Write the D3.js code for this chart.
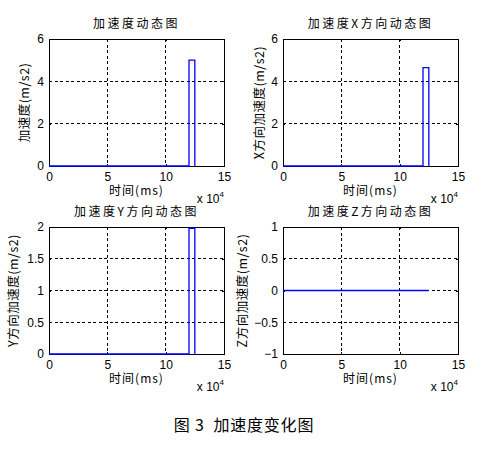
<!DOCTYPE html>
<html>
<head>
<meta charset="utf-8">
<title>加速度变化图</title>
<script src="https://cdn.jsdelivr.net/npm/d3@7"></script>
<style>
  body { margin: 0; background: #fff; }
  .axis path, .axis line { fill: none; stroke: #000; shape-rendering: crispEdges; }
  .axis text { font-family: "Liberation Sans", Arial, sans-serif; font-size: 12px; fill: #000; }
  .grid line { stroke: #000; stroke-dasharray: 3,2.5; shape-rendering: crispEdges; }
  .cjk { font-family: "Noto Sans CJK SC", sans-serif; font-size: 12px; fill: #000; }
</style>
</head>
<body>
<script>
// 数据
var times = [0, 120000, 120000, 125000, 125000];
var accTotal = [0, 0, 5, 5, 0];
var accX = [0, 0, 4.65, 4.65, 0];
var accY = [0, 0, 1.98, 1.98, 0];
var accZ = [0, 0, 0, 0, 0];

var xTicks = [0, 50000, 100000, 150000];
var yTicksTotal = [0, 2, 4, 6];
var yTicksX = [0, 2, 4, 6];
var yTicksY = [0, 0.5, 1, 1.5, 2];
var yTicksZ = [-1, -0.5, 0, 0.5, 1];

var titles = ["加速度动态图", "加速度X方向动态图", "加速度Y方向动态图", "加速度Z方向动态图"];
var yLabels = ["加速度(m/s2)", "X方向加速度(m/s2)", "Y方向加速度(m/s2)", "Z方向加速度(m/s2)"];
var xLabel = "时间(ms)";
var caption = "图 3  加速度变化图";

var w = 494, h = 452;
var svg = d3.select("body").append("svg").attr("width", w).attr("height", h);

// 每个子图的位置
var panels = [
  { left: 49, top: 39, values: accTotal, ticks: yTicksTotal, domain: [0, 6], ylabDx: 24 },
  { left: 283, top: 39, values: accX, ticks: yTicksX, domain: [0, 6], ylabDx: 23 },
  { left: 49, top: 227, values: accY, ticks: yTicksY, domain: [0, 2], ylabDx: 35 },
  { left: 283, top: 227, values: accZ, ticks: yTicksZ, domain: [-1, 1], ylabDx: 40 }
];
var pw = 175, ph = 127;

panels.forEach(function(p, i) {
  var g = svg.append("g").attr("transform", "translate(" + p.left + "," + p.top + ")");
  var x = d3.scaleLinear().domain([0, 150000]).range([0, pw]);
  var y = d3.scaleLinear().domain(p.domain).range([ph, 0]);

  // 网格
  var grid = g.append("g").attr("class", "grid");
  grid.selectAll(".gx").data(xTicks.slice(1, -1)).enter().append("line")
    .attr("x1", function(d) { return x(d); }).attr("x2", function(d) { return x(d); })
    .attr("y1", 0).attr("y2", ph);
  grid.selectAll(".gy").data(p.ticks.slice(1, -1)).enter().append("line")
    .attr("y1", function(d) { return y(d); }).attr("y2", function(d) { return y(d); })
    .attr("x1", 0).attr("x2", pw);

  // 坐标轴
  g.append("g").attr("class", "axis").attr("transform", "translate(0," + ph + ")")
    .call(d3.axisBottom(x).tickValues(xTicks).tickSize(-2).tickPadding(6)
      .tickFormat(function(d) { return d / 10000; }));
  g.append("g").attr("class", "axis")
    .call(d3.axisLeft(y).tickValues(p.ticks).tickSize(-2).tickPadding(5).tickFormat(d3.format("")));
  g.append("g").attr("class", "axis")
    .call(d3.axisTop(x).tickValues(xTicks).tickSize(-2).tickFormat(""));
  g.append("g").attr("class", "axis").attr("transform", "translate(" + pw + ",0)")
    .call(d3.axisRight(y).tickValues(p.ticks).tickSize(-2).tickFormat(""));

  // 曲线
  var line = d3.line()
    .x(function(d, j) { return x(times[j]); })
    .y(function(d) { return y(d); });
  g.append("path").datum(p.values)
    .attr("d", line)
    .attr("fill", "none")
    .attr("stroke", "#0000ff")
    .attr("stroke-width", 1.3);

  // 标题和标签
  g.append("text").attr("class", "cjk")
    .attr("x", pw / 2).attr("y", -11)
    .attr("text-anchor", "middle")
    .style("letter-spacing", "2.5px")
    .text(titles[i]);
  g.append("text").attr("class", "cjk")
    .attr("x", pw / 2).attr("y", ph + 29)
    .attr("text-anchor", "middle")
    .style("letter-spacing", "1px")
    .text(xLabel);
  g.append("text").attr("class", "cjk")
    .attr("transform", "translate(" + (-p.ylabDx + 4) + "," + (ph / 2) + ") rotate(-90)")
    .attr("text-anchor", "middle")
    .style("font-size", "12.5px")
    .style("letter-spacing", "0.5px")
    .text(yLabels[i]);

  var mult = g.append("text")
    .attr("x", pw).attr("y", ph + 37)
    .attr("text-anchor", "end")
    .style("font-family", "'Liberation Sans', Arial, sans-serif")
    .style("font-size", "12px");
  mult.append("tspan").text("x 10");
  mult.append("tspan").attr("dy", -6).style("font-size", "8px").text("4");
});

svg.append("text").attr("class", "cjk")
  .attr("x", 244).attr("y", 431)
  .attr("text-anchor", "middle")
  .style("font-size", "16px")
  .style("letter-spacing", "0.8px")
  .style("white-space", "pre")
  .text(caption);
</script>
</body>
</html>
